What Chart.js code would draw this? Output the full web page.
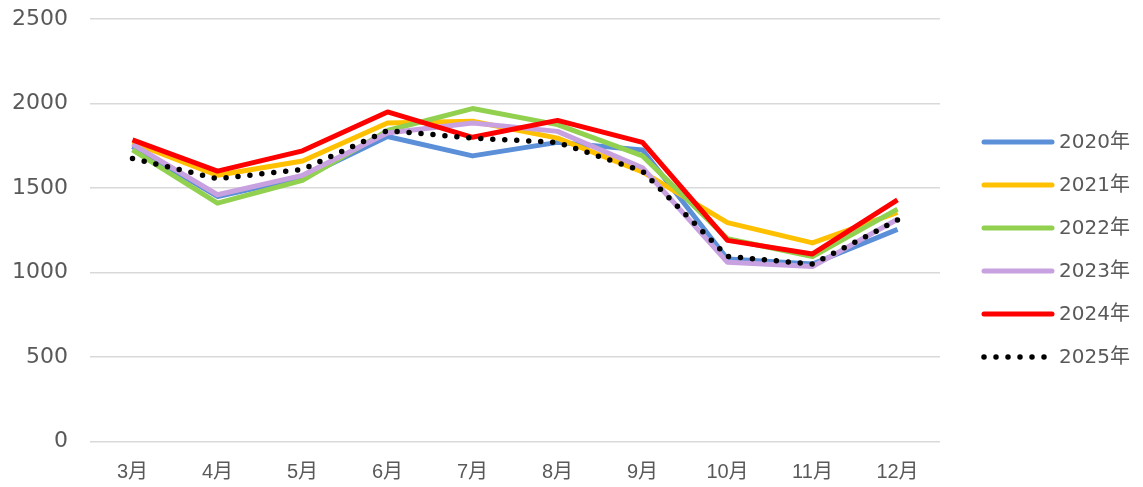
<!DOCTYPE html>
<html>
<head>
<meta charset="utf-8">
<script src="https://cdn.jsdelivr.net/npm/chart.js@4/dist/chart.umd.min.js"></script>
<style>
  html, body { margin: 0; padding: 0; background: #fff; }
  #wrap { position: relative; width: 1143px; height: 487px; }
</style>
</head>
<body>
<div id="wrap"><canvas id="monthChart"></canvas></div>
<script>
const months = ['3月', '4月', '5月', '6月', '7月', '8月', '9月', '10月', '11月', '12月'];
const years = ['2020年', '2021年', '2022年', '2023年', '2024年', '2025年'];

const y2020 = [1745, 1450, 1560, 1805, 1690, 1770, 1725, 1080, 1050, 1255];
const y2021 = [1770, 1575, 1660, 1885, 1895, 1795, 1595, 1295, 1175, 1355];
const y2022 = [1725, 1410, 1545, 1840, 1970, 1875, 1690, 1200, 1095, 1375];
const y2023 = [1760, 1460, 1575, 1825, 1885, 1835, 1620, 1060, 1035, 1315];
const y2024 = [1785, 1600, 1720, 1950, 1800, 1900, 1770, 1190, 1110, 1430];
const y2025 = [1675, 1555, 1610, 1840, 1795, 1770, 1600, 1095, 1050, 1310];

const series = [y2020, y2021, y2022, y2023, y2024, y2025];
const colors = ['#5B8FD8', '#FFC000', '#92D050', '#C8A2E0', '#FF0000', '#000000'];

const textColor = '#595959';

const datasets = series.map((vals, i) => {
  const dotted = i === 5;
  return {
    label: years[i],
    data: vals,
    borderColor: colors[i],
    backgroundColor: colors[i],
    borderWidth: dotted ? 5.5 : 5,
    borderDash: dotted ? [0, 12] : [],
    borderCapStyle: dotted ? 'round' : 'butt',
    borderJoinStyle: 'round',
    pointRadius: 0,
    pointHoverRadius: 0,
    tension: 0,
    fill: false,
    order: 5 - i   // later years on top
  };
});

// legend on the right, drawn by hand so spacing is fixed
const sideLegend = {
  id: 'sideLegend',
  afterDraw(chart) {
    const ctx = chart.ctx;
    chart.data.datasets.forEach((ds, i) => {
      const y = 142 + i * 43;
      ctx.save();
      ctx.strokeStyle = ds.borderColor;
      ctx.lineWidth = ds.borderWidth;
      ctx.lineCap = 'round';
      ctx.setLineDash(ds.borderDash);
      ctx.beginPath();
      ctx.moveTo(984, y);
      ctx.lineTo(1052, y);
      ctx.stroke();
      ctx.restore();

      ctx.save();
      ctx.fillStyle = textColor;
      ctx.font = '20px "DejaVu Sans", "Noto Sans CJK SC"';
      ctx.textAlign = 'left';
      ctx.textBaseline = 'middle';
      ctx.fillText(ds.label, 1059, y + 1);
      ctx.restore();
    });
  }
};

const config = {
  type: 'line',
  data: {
    labels: months,
    datasets: datasets
  },
  options: {
    responsive: true,
    maintainAspectRatio: false,
    animation: false,
    layout: {
      padding: { top: 19, right: 203, bottom: 0, left: 0 }
    },
    plugins: {
      legend: { display: false },
      tooltip: { enabled: false }
    },
    scales: {
      x: {
        offset: true,
        grid: { display: false, drawTicks: false },
        border: { display: false },
        ticks: {
          color: textColor,
          padding: 19,
          maxRotation: 0,
          font: { family: '"Liberation Sans", "Noto Sans CJK SC"', size: 20 }
        },
        afterFit(scale) { scale.height = 45.5; }
      },
      y: {
        min: 0,
        max: 2500,
        grid: { color: '#d9d9d9', lineWidth: 1.5, drawTicks: false },
        border: { display: false },
        ticks: {
          stepSize: 500,
          color: textColor,
          padding: 22,
          font: { family: '"DejaVu Sans"', size: 22 },
          callback: (v) => String(v)
        },
        afterFit(scale) {
          scale.width = 90;
          scale.paddingTop = 0;
          scale.paddingBottom = 0;
        }
      }
    }
  },
  plugins: [sideLegend]
};

new Chart(document.getElementById('monthChart'), config);
</script>
</body>
</html>
